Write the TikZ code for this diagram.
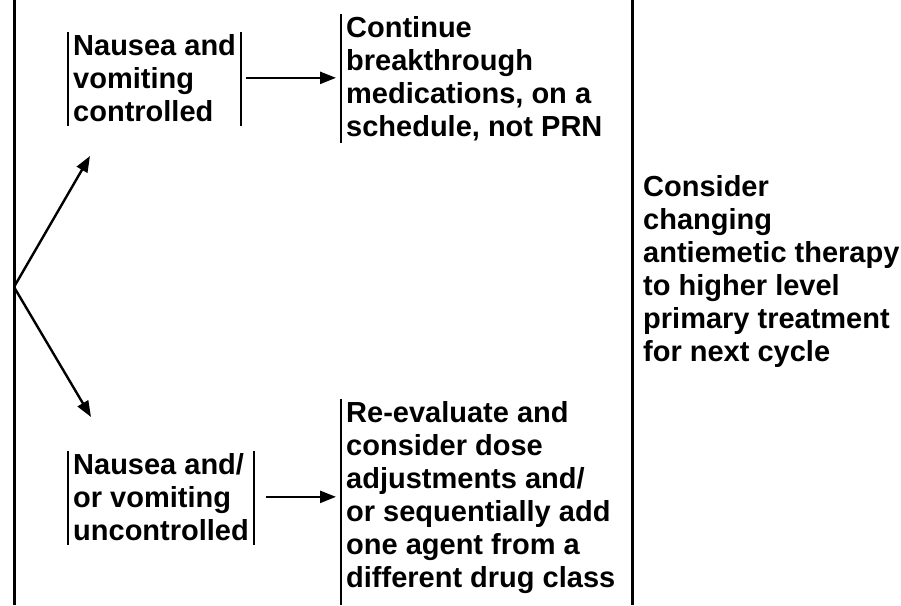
\documentclass[tikz,border=0pt]{standalone}
\usepackage{fontspec}
\setmainfont{Liberation Sans}
\usetikzlibrary{arrows.meta}
\begin{document}
\begin{tikzpicture}[x=1pt,y=-1pt,
  txt/.style={anchor=north west, align=left, inner xsep=5pt, inner ysep=2pt,
    font=\fontsize{29}{33}\selectfont\bfseries},
  bar/.style={line width=2.4pt},
  frame/.style={line width=3pt},
  arr/.style={line width=2.4pt, -{Triangle[length=16pt,width=12pt]}}]
\useasboundingbox (0,0) rectangle (901,605);
% long vertical lines
\coordinate (lt) at (14,0);
\coordinate (lb) at (14,605);
\coordinate (rt) at (632,0);
\coordinate (rb) at (632,605);
\draw[frame] (lt) -- (lb);
\draw[frame] (rt) -- (rb);
% boxes
\node[txt] (b1) at (68,32) {Nausea and\\vomiting\\controlled};
\node[txt] (b2) at (341,14) {Continue\\breakthrough\\medications, on a\\schedule, not PRN};
\node[txt] (b3) at (68,451) {Nausea and/\\or vomiting\\uncontrolled};
\node[txt] (b4) at (341,399) {Re-evaluate and\\consider dose\\adjustments and/\\or sequentially add\\one agent from a\\different drug class};
\node[txt] (b5) at (638,173) {Consider\\changing\\antiemetic therapy\\to higher level\\primary treatment\\for next cycle};
% bars
\draw[bar] (b1.north west) -- ([yshift=-2pt]b1.south west);
\draw[bar] (b1.north east) -- ([yshift=-2pt]b1.south east);
\draw[bar] (b2.north west) -- (b2.south west);
\draw[bar] (b3.north west) -- ([yshift=-2pt]b3.south west);
\draw[bar] (b3.north east) -- ([yshift=-2pt]b3.south east);
\coordinate (b4bot) at (341,605);
\draw[bar] (b4.north west) -- (b4bot);
% fork arrows
\coordinate (fork) at (14,287);
\coordinate (upTip) at (90,156);
\coordinate (dnTip) at (91,417);
\draw[arr] (fork) -- (upTip);
\draw[arr] (fork) -- (dnTip);
% horizontal arrows
\draw[arr, shorten <=5pt, shorten >=5pt] (b1.east) -- (b1.east -| b2.west);
\draw[arr, shorten <=12pt, shorten >=5pt] (b3.east) -- (b3.east -| b4.west);
\end{tikzpicture}
\end{document}
